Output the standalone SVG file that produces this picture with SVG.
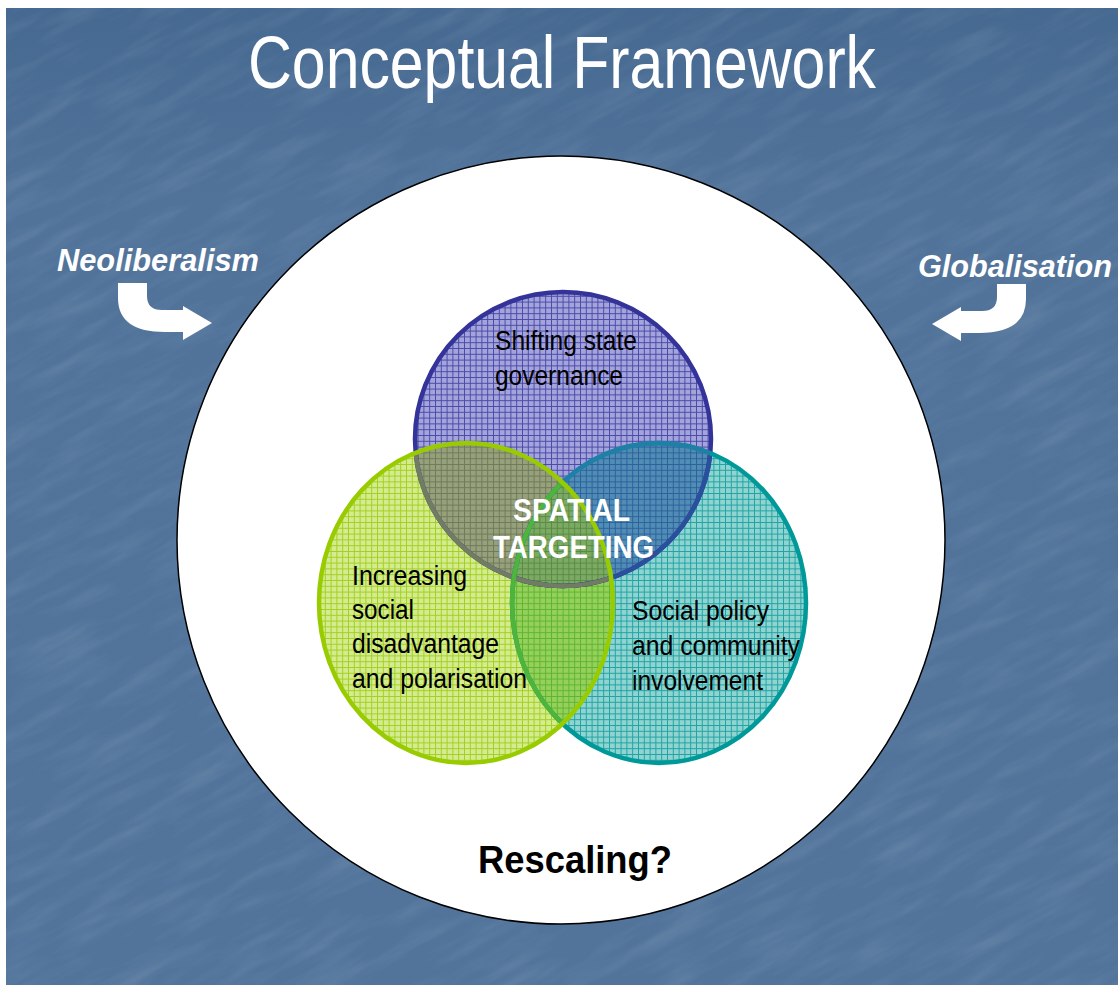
<svg xmlns="http://www.w3.org/2000/svg" width="1118" height="985" viewBox="0 0 1118 985">
<style>
.lbl{font-family:"Liberation Sans",Arial,sans-serif;font-size:27px;fill:#000}
.side{font-family:"Liberation Sans",Arial,sans-serif;font-size:31px;font-weight:bold;font-style:italic;fill:#fff}
.ctr{font-family:"Liberation Sans",Arial,sans-serif;font-size:31px;font-weight:bold;fill:#fff}
.ln{stroke-width:1;shape-rendering:crispEdges}
</style>
<defs>
<linearGradient id="bg" x1="0" y1="0" x2="0" y2="1">
<stop offset="0" stop-color="#466991"/>
<stop offset="0.2" stop-color="#51739a"/>
<stop offset="1" stop-color="#52749b"/>
</linearGradient>
<filter id="tex" x="0" y="0" width="100%" height="100%">
<feTurbulence type="fractalNoise" baseFrequency="0.012 0.07" numOctaves="4" seed="11" result="n"/>
<feColorMatrix in="n" type="matrix" values="0 0 0 0 1  0 0 0 0 1  0 0 0 0 1  0 0 0 1.3 -0.55"/>
</filter>
<clipPath id="slideClip"><rect x="6" y="8" width="1112" height="977"/></clipPath>
<pattern id="gP" width="5.8" height="5.8" patternUnits="userSpaceOnUse">
<rect width="5.8" height="5.8" fill="#a4a4dc"/>
<path class="ln" d="M0 0.5H5.8M0.5 0V5.8" stroke="#4a4aa8"/>
</pattern>
<pattern id="gG" width="5.8" height="5.8" patternUnits="userSpaceOnUse">
<rect width="5.8" height="5.8" fill="#d4eb90"/>
<path class="ln" d="M0 0.5H5.8M0.5 0V5.8" stroke="#a2d020"/>
</pattern>
<pattern id="gT" width="5.8" height="5.8" patternUnits="userSpaceOnUse">
<rect width="5.8" height="5.8" fill="#8fd4d1"/>
<path class="ln" d="M0 0.5H5.8M0.5 0V5.8" stroke="#20a3a3"/>
</pattern>
<pattern id="gPG" width="5.8" height="5.8" patternUnits="userSpaceOnUse">
<rect width="5.8" height="5.8" fill="#96a07a"/>
<path class="ln" d="M0 0.5H5.8M0.5 0V5.8" stroke="#6f7a5a"/>
</pattern>
<pattern id="gPT" width="5.8" height="5.8" patternUnits="userSpaceOnUse">
<rect width="5.8" height="5.8" fill="#508db4"/>
<path class="ln" d="M0 0.5H5.8M0.5 0V5.8" stroke="#2e609e"/>
</pattern>
<pattern id="gGT" width="5.8" height="5.8" patternUnits="userSpaceOnUse">
<rect width="5.8" height="5.8" fill="#95d05c"/>
<path class="ln" d="M0 0.5H5.8M0.5 0V5.8" stroke="#5fb52e"/>
</pattern>
<pattern id="gPGT" width="5.8" height="5.8" patternUnits="userSpaceOnUse">
<rect width="5.8" height="5.8" fill="#7caa64"/>
<path class="ln" d="M0 0.5H5.8M0.5 0V5.8" stroke="#588c42"/>
</pattern>
<ellipse id="eP" cx="563" cy="439" rx="148" ry="147"/>
<ellipse id="eG" cx="466" cy="603" rx="147" ry="160"/>
<ellipse id="eT" cx="659" cy="603" rx="147" ry="160"/>
<clipPath id="cP"><use href="#eP"/></clipPath>
<clipPath id="cG"><use href="#eG"/></clipPath>
<clipPath id="cT"><use href="#eT"/></clipPath>
<path id="bentArrow" d="M118,283 L147,283 L147,296 Q147,310 162,310 L183,310 L183,306 L212,323 L183,340 L183,332 L165,332 Q118,332 118,298 Z"/>
</defs>

<g id="background">
<rect x="0" y="0" width="1118" height="985" fill="#ffffff"/>
<rect x="6" y="8" width="1112" height="977" fill="url(#bg)"/>
<g opacity="0.13" clip-path="url(#slideClip)">
<rect x="-300" y="-300" width="1700" height="1600" fill="#fff" filter="url(#tex)" transform="rotate(-28 559 492)"/>
</g>
</g>

<g id="title">
<text x="248" y="88" font-family="'Liberation Sans',Arial,sans-serif" font-size="74" fill="#fff" textLength="628" lengthAdjust="spacingAndGlyphs">Conceptual Framework</text>
</g>

<g id="rescaling-node">
<circle cx="561" cy="540" r="384" fill="#fff" stroke="#000" stroke-width="1.5"/>
<text x="478" y="873" font-family="'Liberation Sans',Arial,sans-serif" font-size="38" font-weight="bold" fill="#000" textLength="194" lengthAdjust="spacingAndGlyphs">Rescaling?</text>
</g>

<g id="venn">
<g id="node-governance">
<use href="#eP" fill="url(#gP)"/>
</g>
<g id="node-social-policy">
<use href="#eT" fill="url(#gT)"/>
</g>
<g id="node-disadvantage">
<use href="#eG" fill="url(#gG)"/>
</g>
<g id="overlaps">
<g clip-path="url(#cP)"><use href="#eG" fill="url(#gPG)"/></g>
<g clip-path="url(#cP)"><use href="#eT" fill="url(#gPT)"/></g>
<g clip-path="url(#cG)"><use href="#eT" fill="url(#gGT)"/></g>
<g clip-path="url(#cP)"><g clip-path="url(#cG)"><use href="#eT" fill="url(#gPGT)"/></g></g>
</g>
<g id="outlines" fill="none">
<use href="#eP" stroke="#333399" stroke-width="4.5"/>
<g clip-path="url(#cT)"><use href="#eP" stroke="#2a4f9c" stroke-width="4.5"/></g>
<g clip-path="url(#cG)"><use href="#eP" stroke="#717c62" stroke-width="4.5"/></g>
<use href="#eT" stroke="#009999" stroke-width="4.5"/>
<g clip-path="url(#cP)"><use href="#eT" stroke="#1f7fa6" stroke-width="4.5"/></g>
<g clip-path="url(#cG)"><use href="#eT" stroke="#4fb43a" stroke-width="4.5"/></g>
<use href="#eG" stroke="#99cc00" stroke-width="4.5"/>
</g>
</g>

<g id="labels">
<text class="lbl" x="495" y="350" textLength="142" lengthAdjust="spacingAndGlyphs">Shifting state</text>
<text class="lbl" x="495" y="385" textLength="128" lengthAdjust="spacingAndGlyphs">governance</text>
<text class="lbl" x="352" y="585" textLength="115" lengthAdjust="spacingAndGlyphs">Increasing</text>
<text class="lbl" x="352" y="619" textLength="62" lengthAdjust="spacingAndGlyphs">social</text>
<text class="lbl" x="352" y="653" textLength="147" lengthAdjust="spacingAndGlyphs">disadvantage</text>
<text class="lbl" x="352" y="688" textLength="175" lengthAdjust="spacingAndGlyphs">and polarisation</text>
<text class="lbl" x="632" y="620" textLength="137" lengthAdjust="spacingAndGlyphs">Social policy</text>
<text class="lbl" x="632" y="655" textLength="168" lengthAdjust="spacingAndGlyphs">and community</text>
<text class="lbl" x="632" y="690" textLength="131" lengthAdjust="spacingAndGlyphs">involvement</text>
<text class="ctr" x="513" y="521" textLength="117" lengthAdjust="spacingAndGlyphs">SPATIAL</text>
<text class="ctr" x="493" y="558" textLength="161" lengthAdjust="spacingAndGlyphs">TARGETING</text>
</g>

<g id="neoliberalism">
<text class="side" x="57" y="271" textLength="202" lengthAdjust="spacingAndGlyphs">Neoliberalism</text>
</g>
<g id="globalisation">
<text class="side" x="918" y="277" textLength="194" lengthAdjust="spacingAndGlyphs">Globalisation</text>
</g>

<g id="connectors" fill="#fff">
<use href="#bentArrow"/>
<use href="#bentArrow" transform="translate(1144,1) scale(-1,1)"/>
</g>
</svg>
